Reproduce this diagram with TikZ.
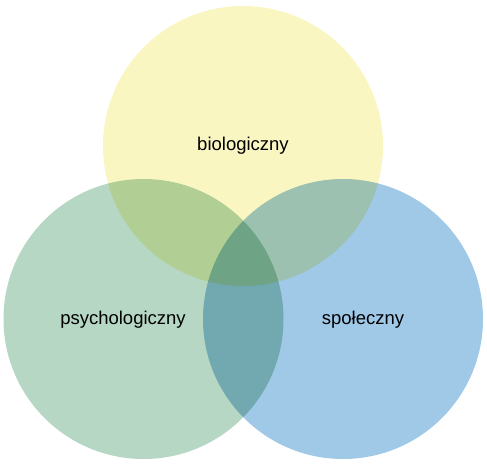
\documentclass[tikz,border=0pt]{standalone}
\usepackage{fontspec}
\setmainfont{Liberation Sans}
\definecolor{bioYellow}{RGB}{249,246,194}
\definecolor{psyGreen}{RGB}{182,215,195}
\definecolor{socBlue}{RGB}{160,201,232}
\tikzset{every picture/.style={line width=0.75pt}}
\tikzset{
  sphere/.style={circle, draw=none, minimum size=280pt, inner sep=0pt},
  label text/.style={font=\fontsize{18.5}{22}\selectfont, text=black, inner sep=0pt}
}

\begin{document}
\begin{tikzpicture}[x=1pt,y=1pt,yscale=-1,xscale=1]
\useasboundingbox (0,0) rectangle (487,465);

\begin{scope}[blend group=multiply]
%Shape: Circle [biologiczny]
\node [sphere, fill=bioYellow] (bio) at (243,146) {};
%Shape: Circle [psychologiczny]
\node [sphere, fill=psyGreen] (psy) at (143.5,319) {};
%Shape: Circle [spoleczny]
\node [sphere, fill=socBlue] (soc) at (343,319) {};
\end{scope}

% Text Node
\node [label text] (bioLabel) at (243,146) {biologiczny};
% Text Node
\node [label text] (psyLabel) at (123,320) {psychologiczny};
% Text Node
\node [label text] (socLabel) at (363,320) {społeczny};

\end{tikzpicture}
\end{document}
